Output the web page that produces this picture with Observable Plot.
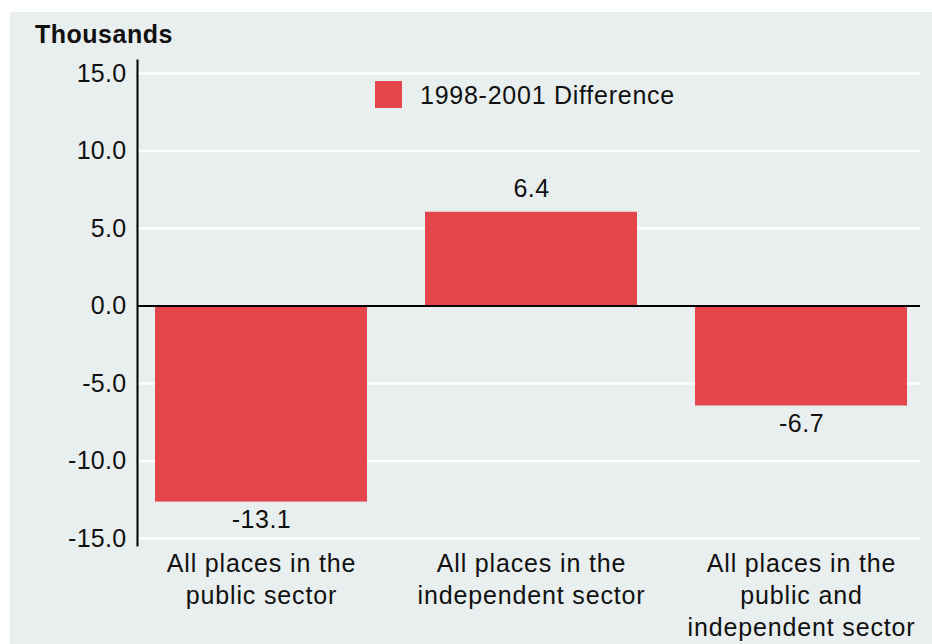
<!DOCTYPE html>
<html>
<head>
<meta charset="utf-8">
<script src="https://cdn.jsdelivr.net/npm/d3@7"></script>
<script src="https://cdn.jsdelivr.net/npm/@observablehq/plot@0.6"></script>
<style>
  html, body { margin: 0; padding: 0; background: #ffffff; }
  body { width: 932px; height: 644px; overflow: hidden; position: relative;
         font-family: "Liberation Sans", Arial, Helvetica, sans-serif; }
  #wrap { position: absolute; left: 10px; top: 12px; width: 922px; height: 632px; background: #e8efee; }
  #wrap svg { position: absolute; left: 0; top: 0; }
  #title { position: absolute; left: 25px; top: 10px; font-size: 25px; line-height: 24px; font-weight: bold; color: #111; white-space: nowrap; letter-spacing: 0.5px; }
  #legend { position: absolute; left: 365px; top: 69px; height: 27px; white-space: nowrap; }
  #legend .sw { position: absolute; left: 0; top: 0; width: 27px; height: 27px; background: #e5464b; }
  #legend .lb { position: absolute; left: 45px; top: 2px; font-size: 25px; line-height: 24px; color: #111; letter-spacing: 0.75px; }
  g[aria-label="x-axis tick label"] text { letter-spacing: 0.85px; }
  g[aria-label="y-axis tick label"] text { letter-spacing: 0.3px; }
  g[aria-label="text"] text { letter-spacing: 0.5px; }
</style>
</head>
<body>
<div id="wrap">
  <div id="title">Thousands</div>
  <div id="legend"><div class="sw"></div><div class="lb">1998-2001 Difference</div></div>
</div>
<script>
// Data
const categories = [
  "All places in the\npublic sector",
  "All places in the\nindependent sector",
  "All places in the\npublic and\nindependent sector"
];
const barValues = [-12.65, 6.05, -6.45];          // bar heights as drawn
const valueLabels = ["-13.1", "6.4", "-6.7"];     // printed labels
const yTicks = [-15, -10, -5, 0, 5, 10, 15];
const seriesName = "1998-2001 Difference";

const data = categories.map((c, i) => ({cat: c, value: barValues[i], label: valueLabels[i]}));
const fmt = d => d3.format(".1f")(d).replace("\u2212", "-");

const chart = Plot.plot({
  width: 922,
  height: 632,
  marginLeft: 127,
  marginRight: 12,
  marginTop: 48,
  marginBottom: 99,
  style: {background: "transparent", fontFamily: "'Liberation Sans', Arial, Helvetica, sans-serif", color: "#111"},
  x: {type: "band", domain: categories, range: [127, 915], paddingInner: 0.215, paddingOuter: 0.0667},
  y: {domain: [-15.45, 15.84]},
  marks: [
    Plot.ruleY(yTicks.filter(d => d !== 0), {stroke: "#ffffff", strokeWidth: 2.5}),
    Plot.barY(data, {x: "cat", y: "value", fill: "#e5464b"}),
    Plot.ruleY([0], {stroke: "#000", strokeWidth: 2}),
    Plot.frame({anchor: "left", stroke: "#000", strokeWidth: 2}),
    Plot.axisY({ticks: yTicks, tickFormat: fmt, tickSize: 0, tickPadding: 11, fontSize: 25, label: null}),
    Plot.axisX({tickSize: 0, tickPadding: 4, fontSize: 25, lineHeight: 1.28, label: null}),
    Plot.text(data.filter(d => d.value >= 0), {x: "cat", y: "value", text: "label", fontSize: 25, lineAnchor: "middle", dy: -23}),
    Plot.text(data.filter(d => d.value < 0), {x: "cat", y: "value", text: "label", fontSize: 25, lineAnchor: "middle", dy: 18})
  ]
});
document.getElementById("wrap").appendChild(chart);
</script>
</body>
</html>
